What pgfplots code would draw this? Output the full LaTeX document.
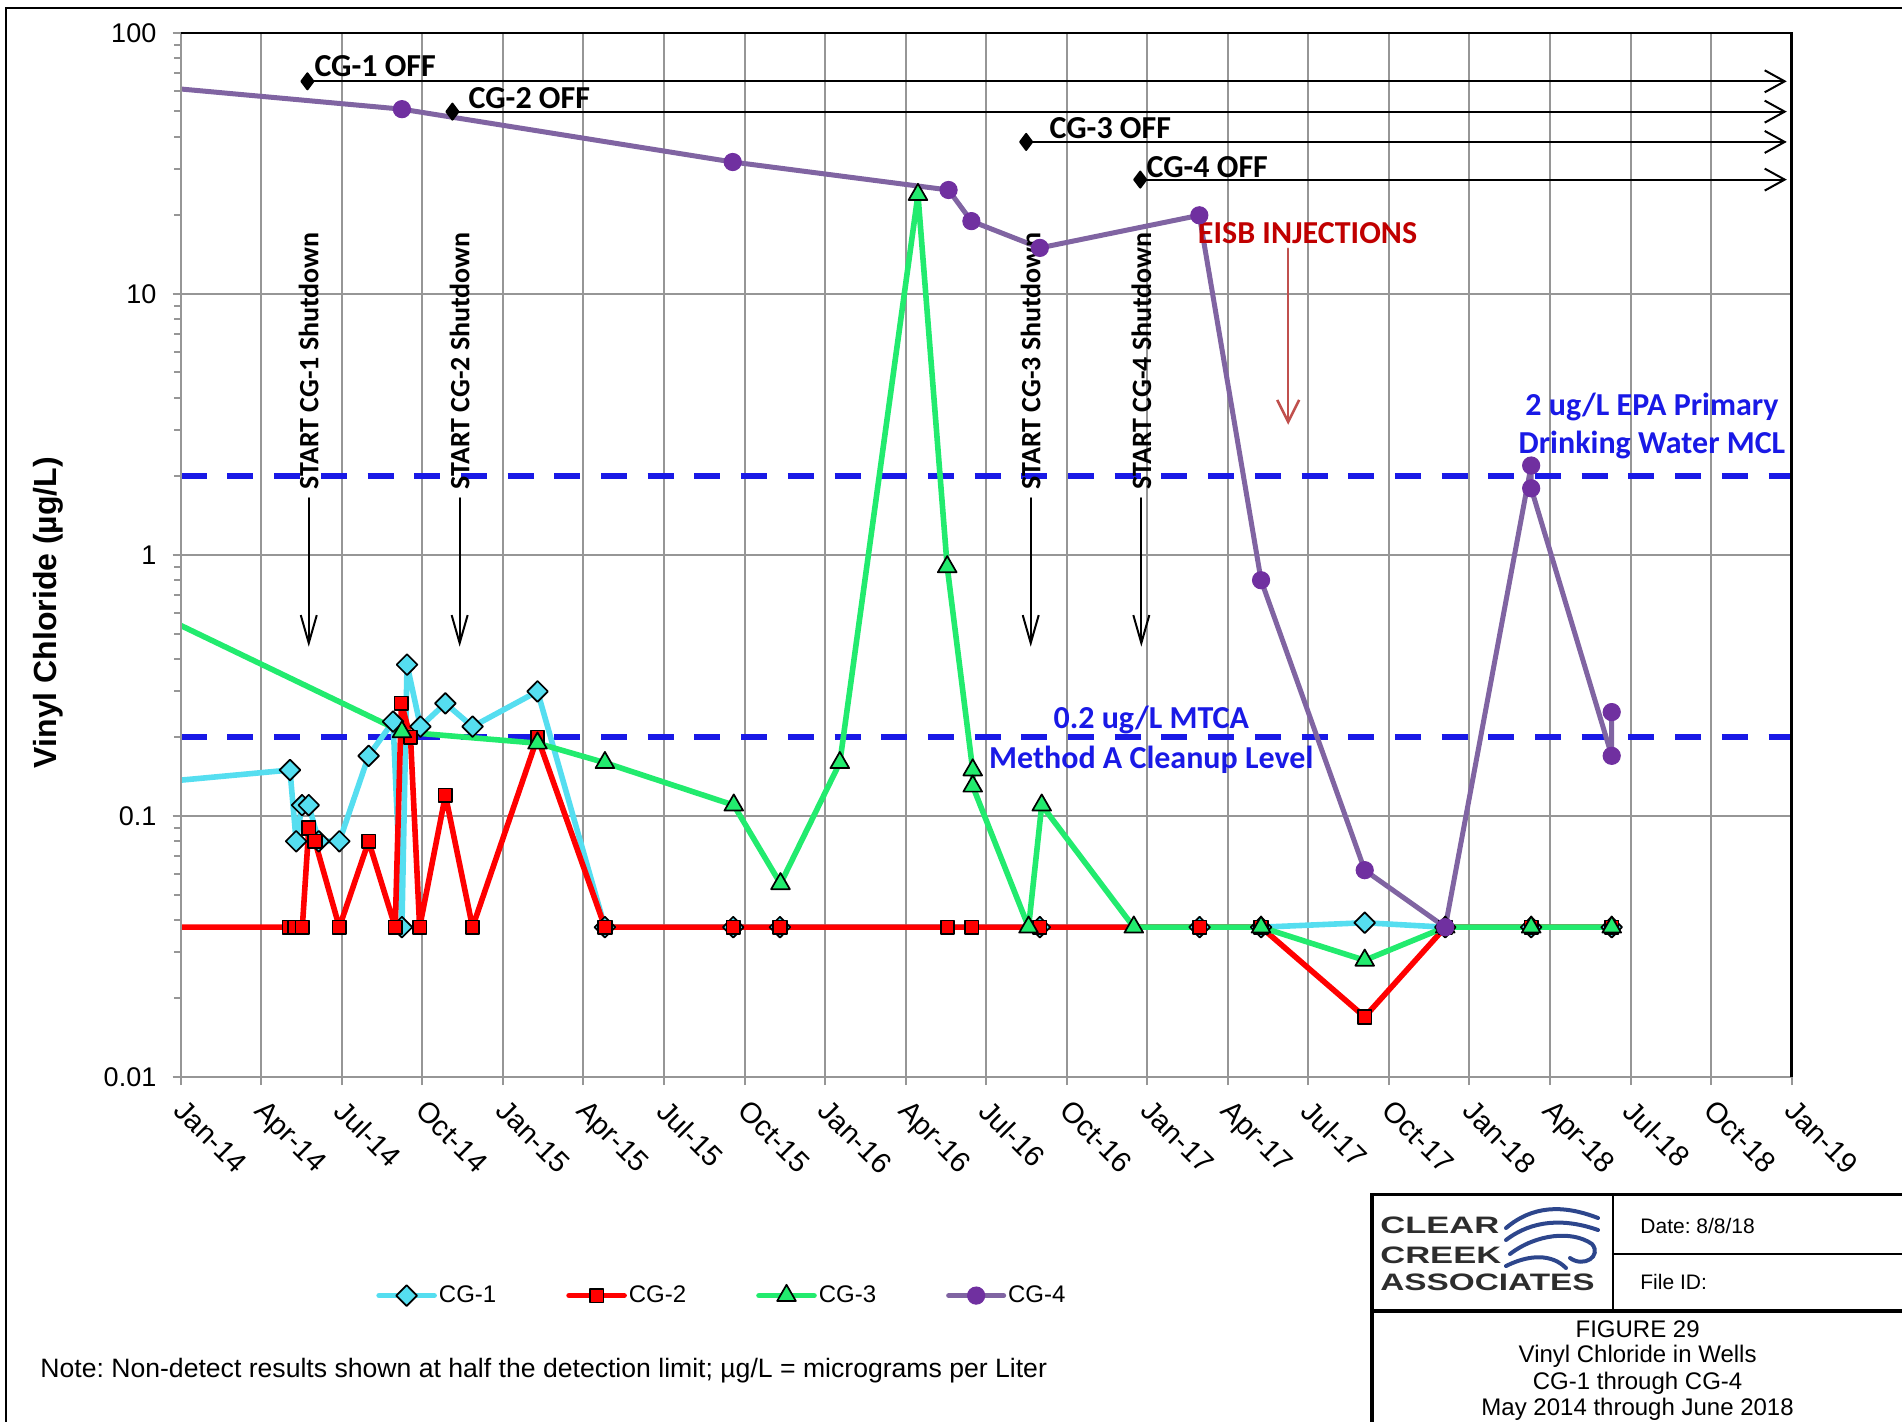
\documentclass[border=0pt]{standalone}
\usepackage{pgfplots}
\pgfplotsset{compat=1.18}
\usepackage{fontspec}
\setmainfont{Liberation Sans}
\newfontfamily\calibri{Carlito}
\usetikzlibrary{arrows.meta}
\definecolor{cgone}{RGB}{85,222,240}
\definecolor{cgtwo}{RGB}{255,0,0}
\definecolor{cgthree}{RGB}{34,235,110}
\definecolor{cgfour}{RGB}{128,100,162}
\definecolor{cgfourm}{RGB}{112,48,160}
\definecolor{mclblue}{RGB}{25,25,230}
\definecolor{gridgray}{RGB}{150,150,150}
\definecolor{eisbred}{RGB}{192,0,0}
\definecolor{arrowred}{RGB}{192,80,77}
\definecolor{logoblue}{RGB}{45,70,140}
\definecolor{logogray}{RGB}{45,45,45}
\frenchspacing
\begin{document}
\begin{tikzpicture}
\path[use as bounding box] (0,0) rectangle (951pt,-710.5pt);
\draw[line width=1.2pt] (3pt,-715pt) -- (3pt,-4pt) -- (960pt,-4pt);
\begin{axis}[
  at={(90.35pt,-538.5pt)}, anchor=south west,
  scale only axis, width=805.45pt, height=522.1pt,
  xmin=0, xmax=60, ymin=0.01, ymax=100, ymode=log,
  axis line style={draw=none},
  xtick={0,3,6,9,12,15,18,21,24,27,30,33,36,39,42,45,48,51,54,57,60},
  xticklabels={Jan-14,Apr-14,Jul-14,Oct-14,Jan-15,Apr-15,Jul-15,Oct-15,Jan-16,Apr-16,Jul-16,Oct-16,Jan-17,Apr-17,Jul-17,Oct-17,Jan-18,Apr-18,Jul-18,Oct-18,Jan-19},
  ytick={0.01,0.1,1,10,100},
  yticklabels={0.01,0.1,1,10,100},
  minor ytick={0.02,0.03,0.04,0.05,0.06,0.07,0.08,0.09,0.2,0.3,0.4,0.5,0.6,0.7,0.8,0.9,2,3,4,5,6,7,8,9,20,30,40,50,60,70,80,90},
  tick pos=left, tick align=outside,
  major tick length=4pt, minor tick length=3.3pt,
  tick style={gridgray, line width=1pt},
  xmajorgrids, ymajorgrids,
  major grid style={gridgray, line width=1pt},
  yticklabel style={font=\fontsize{13.5}{15}\selectfont, text=black, anchor=east, inner sep=0pt, xshift=-8pt},
  xticklabel style={font=\fontsize{14.5}{16}\selectfont, text=black, xshift=3pt, yshift=-6.5pt, rotate=-45, anchor=north west, inner sep=0pt},
  legend style={at={(0.1212,-0.2093)}, anchor=west, draw=none, fill=none,
    legend columns=4, font=\fontsize{12}{14}\selectfont, inner xsep=0pt,
    nodes={inner xsep=1pt},
    /tikz/every even column/.append style={column sep=34pt}},
  legend cell align=left,
  legend image code/.code={\draw[mark repeat=2,mark phase=2,#1] plot coordinates {(0pt,0pt) (13.75pt,0pt) (27.5pt,0pt)};},
  every axis plot/.append style={line join=round, line cap=round},
]
% threshold lines
\addplot[mclblue, line width=3pt, dash pattern=on 13pt off 10.35pt, line cap=butt, forget plot] coordinates {(0,2) (60,2)};
\addplot[mclblue, line width=3pt, dash pattern=on 13pt off 10.35pt, line cap=butt, forget plot] coordinates {(0,0.2) (60,0.2)};
% CG-1
\addplot[cgone, line width=2.8pt, mark=diamond*, mark size=5.2pt, mark options={fill=cgone, draw=black, line width=0.85pt, xscale=1.33}] coordinates {
(-0.05,0.137) (4.07,0.15) (4.30,0.08) (4.52,0.11) (4.77,0.11) (5.14,0.08) (5.91,0.08)
(7.00,0.17) (7.91,0.23) (8.24,0.0375) (8.43,0.38) (8.93,0.22) (9.86,0.27) (10.87,0.22)
(13.29,0.30) (15.8,0.0375) (20.58,0.0375) (22.32,0.0375) (32.0,0.0375) (37.95,0.0375)
(40.24,0.0375) (44.1,0.039) (47.1,0.0375) (50.3,0.0375) (53.3,0.0375)};
\addlegendentry{CG-1}
% CG-2
\addplot[cgtwo, line width=2.8pt, mark=square*, mark size=3.4pt, mark options={fill=cgtwo, draw=black, line width=0.85pt}] coordinates {
(-0.05,0.0375) (4.04,0.0375) (4.26,0.0375) (4.53,0.0375) (4.77,0.09) (5.00,0.08) (5.91,0.0375)
(7.00,0.08) (7.99,0.0375) (8.22,0.27) (8.56,0.2) (8.90,0.0375) (9.86,0.12) (10.87,0.0375)
(13.29,0.20) (15.8,0.0375) (20.58,0.0375) (22.32,0.0375) (28.56,0.0375) (29.46,0.0375)
(32.0,0.0375) (37.95,0.0375) (40.24,0.0375) (44.1,0.017) (47.1,0.0375) (50.3,0.0375) (53.3,0.0375)};
\addlegendentry{CG-2}
% CG-3
\addplot[cgthree, line width=2.8pt, mark=triangle*, mark size=5.4pt, mark options={fill=cgthree, draw=black, line width=0.85pt}] coordinates {
(-0.05,0.54) (8.24,0.21) (13.29,0.19) (15.8,0.16) (20.6,0.11) (22.34,0.055) (24.55,0.16)
(27.46,24) (28.55,0.9) (29.5,0.15) (29.5,0.13) (31.58,0.0375) (32.07,0.11) (35.5,0.0375)
(40.24,0.0375) (44.1,0.028) (47.1,0.0375) (50.3,0.0375) (53.3,0.0375)};
\addlegendentry{CG-3}
% CG-4
\addplot[cgfour, line width=2.5pt, mark=*, mark size=4.3pt, mark options={fill=cgfourm, draw=cgfourm, line width=0.5pt}] coordinates {
(-0.05,61) (8.24,51) (20.56,32) (28.6,25) (29.45,19) (32.0,15) (37.94,20) (40.24,0.80)
(44.1,0.062) (47.1,0.0375) (50.3,2.2) (50.3,1.8) (53.3,0.17) (53.3,0.25)};
\addlegendentry{CG-4}
% OFF arrows
\addplot[black, line width=1pt, mark=diamond*, mark size=4pt, mark indices={1}, -{Straight Barb[length=10pt,width=11pt]}, forget plot] coordinates {(4.72,65.2) (59.82,65.2)};
\addplot[black, line width=1pt, mark=diamond*, mark size=4pt, mark indices={1}, -{Straight Barb[length=10pt,width=11pt]}, forget plot] coordinates {(10.12,49.9) (59.82,49.9)};
\addplot[black, line width=1pt, mark=diamond*, mark size=4pt, mark indices={1}, -{Straight Barb[length=10pt,width=11pt]}, forget plot] coordinates {(31.49,38.2) (59.82,38.2)};
\addplot[black, line width=1pt, mark=diamond*, mark size=4pt, mark indices={1}, -{Straight Barb[length=10pt,width=11pt]}, forget plot] coordinates {(35.74,27.4) (59.82,27.4)};
\node[anchor=base west, inner sep=0pt, font=\calibri\bfseries\fontsize{16}{19}\selectfont] at (axis cs:4.97,68.1) {CG-1 OFF};
\node[anchor=base west, inner sep=0pt, font=\calibri\bfseries\fontsize{16}{19}\selectfont] at (axis cs:10.71,51.5) {CG-2 OFF};
\node[anchor=base west, inner sep=0pt, font=\calibri\bfseries\fontsize{16}{19}\selectfont] at (axis cs:32.35,39.5) {CG-3 OFF};
\node[anchor=base west, inner sep=0pt, font=\calibri\bfseries\fontsize{16}{19}\selectfont] at (axis cs:35.96,28.0) {CG-4 OFF};
% shutdown arrows
\addplot[black, line width=1pt, -{Straight Barb[length=14pt,width=8pt]}, forget plot] coordinates {(4.77,1.65) (4.77,0.445)};
\addplot[black, line width=1pt, -{Straight Barb[length=14pt,width=8pt]}, forget plot] coordinates {(10.39,1.65) (10.39,0.445)};
\addplot[black, line width=1pt, -{Straight Barb[length=14pt,width=8pt]}, forget plot] coordinates {(31.66,1.65) (31.66,0.445)};
\addplot[black, line width=1pt, -{Straight Barb[length=14pt,width=8pt]}, forget plot] coordinates {(35.78,1.65) (35.78,0.445)};
\node[rotate=90, anchor=west, inner sep=0pt, font=\calibri\bfseries\fontsize{14}{16}\selectfont] at (axis cs:4.77,1.773) {START CG-1 Shutdown};
\node[rotate=90, anchor=west, inner sep=0pt, font=\calibri\bfseries\fontsize{14}{16}\selectfont] at (axis cs:10.39,1.773) {START CG-2 Shutdown};
\node[rotate=90, anchor=west, inner sep=0pt, font=\calibri\bfseries\fontsize{14}{16}\selectfont] at (axis cs:31.66,1.773) {START CG-3 Shutdown};
\node[rotate=90, anchor=west, inner sep=0pt, font=\calibri\bfseries\fontsize{14}{16}\selectfont] at (axis cs:35.78,1.773) {START CG-4 Shutdown};
% EISB
\addplot[arrowred, line width=1.3pt, -{Straight Barb[length=11pt,width=11pt]}, forget plot] coordinates {(41.25,14.9) (41.25,3.15)};
\node[text=eisbred, inner sep=0pt, font=\calibri\bfseries\fontsize{16}{19}\selectfont] at (axis cs:41.97,17.1) {EISB INJECTIONS};
\node[align=center, text=mclblue, inner sep=0pt, font=\calibri\bfseries\fontsize{16}{19.4}\selectfont] at (axis cs:54.8,3.12) {2 ug/L EPA Primary\\Drinking Water MCL};
\node[align=center, text=mclblue, inner sep=0pt, font=\calibri\bfseries\fontsize{16}{20}\selectfont] at (axis cs:36.15,0.1966) {0.2 ug/L MTCA\\Method A Cleanup Level};
\end{axis}
% axis frame
\draw[gridgray, line width=1.2pt] (90.35pt,-16.4pt) -- (90.35pt,-538.5pt) -- (895.8pt,-538.5pt);
\draw[black, line width=1.3pt] (90.35pt,-16.4pt) -- (895.8pt,-16.4pt) -- (895.8pt,-538.5pt);
% y label
\node[rotate=90, font=\bfseries\fontsize{16}{19}\selectfont] at (23.9pt,-306.3pt) {Vinyl Chloride (µg/L)};
% note
\node[anchor=west, inner sep=0pt, font=\fontsize{13.3}{15}\selectfont] at (20pt,-685.4pt) {Note: Non-detect results shown at half the detection limit; µg/L = micrograms per Liter};
% title block
\draw[line width=1.6pt] (686pt,-720pt) -- (686pt,-597.4pt) -- (960pt,-597.4pt);
\draw[line width=1.6pt] (686pt,-655.5pt) -- (960pt,-655.5pt);
\draw[line width=1pt] (806.7pt,-597.4pt) -- (806.7pt,-655.5pt);
\draw[line width=1pt] (806.7pt,-627pt) -- (960pt,-627pt);
\node[anchor=west, inner sep=0pt, font=\fontsize{10.5}{12}\selectfont] at (820pt,-613.2pt) {Date: 8/8/18};
\node[anchor=west, inner sep=0pt, font=\fontsize{10.5}{12}\selectfont] at (820pt,-641pt) {File ID:};
\node[inner sep=0pt, font=\fontsize{12}{14}\selectfont] at (818.8pt,-664.5pt) {FIGURE 29};
\node[inner sep=0pt, font=\fontsize{12}{14}\selectfont] at (818.8pt,-678pt) {Vinyl Chloride in Wells};
\node[inner sep=0pt, font=\fontsize{12}{14}\selectfont] at (818.8pt,-691.6pt) {CG-1 through CG-4};
\node[inner sep=0pt, font=\fontsize{12}{14}\selectfont] at (818.8pt,-704.8pt) {May 2014 through June 2018};
% logo
\node[anchor=west, inner sep=0pt, text=logogray, font=\bfseries\fontsize{11.9}{13}\selectfont] at (690pt,-612.8pt) {\scalebox{1.45}[1]{CLEAR}};
\node[anchor=west, inner sep=0pt, text=logogray, font=\bfseries\fontsize{11.9}{13}\selectfont] at (690pt,-627.4pt) {\scalebox{1.45}[1]{CREEK}};
\node[anchor=west, inner sep=0pt, text=logogray, font=\bfseries\fontsize{11.9}{13}\selectfont] at (690pt,-641pt) {\scalebox{1.4}[1]{ASSOCIATES}};
\begin{scope}[logoblue, line width=2pt, line cap=round]
\draw (753pt,-614pt) .. controls (766pt,-603pt) and (781pt,-602pt) .. (799pt,-609pt);
\draw (753pt,-620pt) .. controls (766pt,-610pt) and (782pt,-609pt) .. (799pt,-615pt);
\draw (755pt,-627pt) .. controls (768pt,-617pt) and (786pt,-615pt) .. (796pt,-622pt) .. controls (801pt,-628pt) and (792pt,-634pt) .. (785pt,-629pt);
\draw (753pt,-633pt) .. controls (765pt,-627pt) and (776pt,-627pt) .. (783pt,-634pt);
\end{scope}
\end{tikzpicture}
\end{document}
